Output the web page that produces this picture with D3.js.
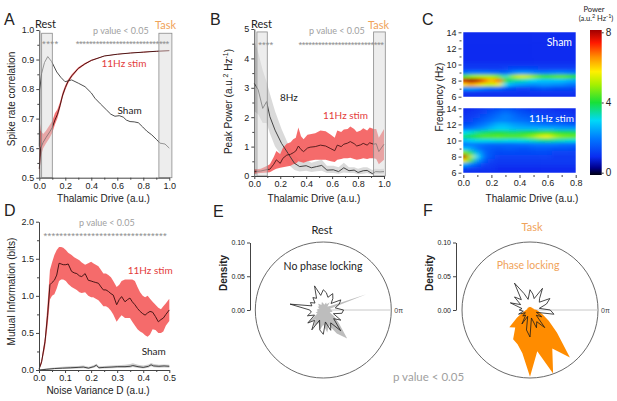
<!DOCTYPE html>
<html>
<head>
<meta charset="utf-8">
<script src="https://cdn.jsdelivr.net/npm/d3@7"></script>
<style>
body { margin: 0; background: #fff; }
svg text { font-family: "Liberation Sans", Arial, sans-serif; }
.ann { font-family: Lato, "Open Sans", sans-serif; }
</style>
</head>
<body>
<div id="chart"></div>
<script>
const width = 617
const height = 401

// ---------- A: spike rate correlation ----------
const shamDriveA = [0, 0.003, 0.018, 0.04, 0.065, 0.095, 0.134, 0.165, 0.198, 0.225, 0.249, 0.3, 0.352, 0.4, 0.428, 0.47, 0.518, 0.55, 0.582, 0.615, 0.646, 0.67, 0.698, 0.73, 0.762, 0.795, 0.826, 0.865, 0.9, 0.928, 0.967, 1.0]
const shamCorrA = [0.605, 0.797, 0.853, 0.89, 0.91, 0.893, 0.858, 0.84, 0.825, 0.828, 0.831, 0.82, 0.808, 0.787, 0.769, 0.75, 0.729, 0.715, 0.708, 0.71, 0.705, 0.695, 0.69, 0.689, 0.686, 0.672, 0.658, 0.645, 0.63, 0.617, 0.614, 0.60]
const stimDriveA = [0, 0.01, 0.03, 0.05, 0.08, 0.1, 0.12, 0.14, 0.16, 0.18, 0.2, 0.22, 0.25, 0.3, 0.35, 0.4, 0.5, 0.6, 0.7, 0.8, 0.9, 1.0]
const stimCorrA = [0.53, 0.6, 0.62, 0.635, 0.655, 0.67, 0.695, 0.715, 0.745, 0.78, 0.805, 0.825, 0.845, 0.87, 0.885, 0.897, 0.912, 0.918, 0.922, 0.925, 0.928, 0.93]
const stimLoA = [0.50, 0.57, 0.60, 0.615, 0.635, 0.652, 0.68, 0.702, 0.735, 0.772, 0.797, 0.818, 0.84, 0.866, 0.882, 0.895, 0.911, 0.917, 0.921, 0.924, 0.927, 0.929]
const stimHiA = [0.71, 0.66, 0.648, 0.658, 0.678, 0.692, 0.718, 0.732, 0.757, 0.79, 0.813, 0.832, 0.85, 0.874, 0.888, 0.899, 0.913, 0.919, 0.923, 0.926, 0.929, 0.931]
const xTicksA = [0, 0.2, 0.4, 0.6, 0.8, 1.0]
const xMinorA = [0.1, 0.3, 0.5, 0.7, 0.9]
const yTicksA = [0.5, 0.6, 0.7, 0.8, 0.9, 1.0]
const yMinorA = [0.55, 0.65, 0.75, 0.85, 0.95]
const sigA = [[0.02, 0.146, 4], [0.28, 1.0, 28]]

// ---------- B: peak power ----------
const shamDriveB = [0, 0.03, 0.065, 0.095, 0.12, 0.16, 0.21, 0.26, 0.31, 0.35, 0.4, 0.44, 0.48, 0.52, 0.56, 0.61, 0.65, 0.69, 0.73, 0.77, 0.8, 0.84, 0.87, 0.91, 0.935, 0.97, 1.0]
const shamPowB = [3.15, 2.93, 2.3, 2.53, 2.02, 1.56, 1.11, 0.77, 0.43, 0.32, 0.35, 0.28, 0.32, 0.36, 0.2, 0.21, 0.15, 0.28, 0.18, 0.2, 0.12, 0.18, 0.19, 0.08, 0.15, 0.14, 0.15]
const shamLoB = [2.2, 2.1, 1.8, 1.8, 1.45, 1.0, 0.7, 0.4, 0.2, 0.15, 0.18, 0.14, 0.16, 0.18, 0.1, 0.1, 0.08, 0.12, 0.1, 0.1, 0.06, 0.08, 0.1, 0.04, 0.08, 0.08, 0.08]
const shamHiB = [4.6, 4.2, 3.6, 3.2, 2.8, 2.2, 1.6, 1.1, 0.7, 0.55, 0.55, 0.45, 0.5, 0.55, 0.35, 0.35, 0.3, 0.45, 0.3, 0.3, 0.25, 0.3, 0.3, 0.2, 0.25, 0.24, 0.25]
const stimDriveB = [0, 0.05, 0.1, 0.12, 0.15, 0.17, 0.2, 0.22, 0.25, 0.28, 0.3, 0.32, 0.34, 0.36, 0.38, 0.41, 0.43, 0.47, 0.51, 0.55, 0.59, 0.62, 0.64, 0.67, 0.69, 0.72, 0.74, 0.77, 0.79, 0.82, 0.84, 0.87, 0.89, 0.92, 0.94, 0.96, 1.0]
const stimPowB = [0.15, 0.17, 0.22, 0.23, 0.4, 0.55, 0.43, 0.6, 0.71, 0.74, 0.79, 0.85, 1.02, 0.9, 0.83, 0.95, 0.98, 1.0, 1.05, 1.02, 0.93, 0.86, 1.05, 1.0, 1.08, 1.12, 1.17, 1.1, 1.02, 1.06, 1.11, 1.05, 1.13, 1.08, 1.1, 0.83, 1.08]
const stimLoB = [0.08, 0.1, 0.12, 0.13, 0.2, 0.25, 0.28, 0.3, 0.32, 0.35, 0.4, 0.42, 0.5, 0.48, 0.45, 0.5, 0.52, 0.55, 0.55, 0.55, 0.5, 0.48, 0.55, 0.58, 0.6, 0.6, 0.62, 0.58, 0.55, 0.58, 0.6, 0.58, 0.6, 0.6, 0.58, 0.4, 0.55]
const stimHiB = [0.22, 0.25, 0.35, 0.4, 0.65, 0.85, 0.75, 0.95, 1.1, 1.15, 1.25, 1.3, 1.65, 1.35, 1.25, 1.4, 1.42, 1.45, 1.55, 1.52, 1.4, 1.3, 1.55, 1.5, 1.58, 1.6, 1.68, 1.6, 1.5, 1.55, 1.62, 1.55, 1.65, 1.6, 1.6, 1.3, 1.6]
const xTicksB = [0, 0.2, 0.4, 0.6, 0.8, 1.0]
const xMinorB = [0.1, 0.3, 0.5, 0.7, 0.9]
const yTicksB = [0, 1, 2, 3, 4, 5]
const yMinorB = [0.5, 1.5, 2.5, 3.5, 4.5]
const sigB = [[0.03, 0.145, 4], [0.34, 1.0, 26]]

// ---------- C: spectrograms ----------
const heatFreqs = [14, 13.5, 13, 12.5, 12, 11.5, 11, 10.5, 10, 9.5, 9, 8.5, 8, 7.5, 7, 6.5, 6]
const heatDrives = [0, 0.05, 0.1, 0.15, 0.2, 0.25, 0.3, 0.35, 0.4, 0.45, 0.5, 0.55, 0.6, 0.65, 0.7, 0.75, 0.8]
const shamPower = [
  [1.0, 1.0, 1.0, 1.0, 1.0, 1.0, 1.0, 1.0, 1.0, 1.0, 1.0, 1.0, 1.0, 1.0, 1.0, 1.0, 1.0],
  [1.0, 1.0, 1.0, 1.0, 1.0, 1.0, 1.0, 1.0, 1.0, 1.0, 1.0, 1.0, 1.0, 1.0, 1.0, 1.0, 1.0],
  [1.0, 1.0, 1.0, 1.0, 1.0, 1.0, 1.0, 1.0, 1.0, 1.0, 1.0, 1.0, 1.0, 1.0, 1.0, 1.0, 1.0],
  [1.0, 1.0, 1.0, 1.0, 1.0, 1.0, 1.0, 1.0, 1.0, 1.0, 1.0, 1.0, 1.0, 1.0, 1.0, 1.0, 1.0],
  [1.0, 1.0, 1.0, 1.0, 1.0, 1.0, 1.0, 1.0, 1.0, 1.0, 1.0, 1.0, 1.0, 1.0, 1.0, 1.0, 1.0],
  [1.0, 1.0, 1.0, 1.0, 1.0, 1.0, 1.0, 1.0, 1.0, 1.0, 1.0, 1.0, 1.0, 1.0, 1.0, 1.0, 1.0],
  [1.0, 1.0, 1.0, 1.0, 1.0, 1.0, 1.0, 1.0, 1.0, 1.0, 1.0, 1.0, 1.0, 1.0, 1.0, 1.0, 1.0],
  [1.0, 1.0, 1.0, 1.0, 1.0, 1.0, 1.0, 1.0, 1.0, 1.0, 1.0, 1.0, 1.0, 1.0, 1.0, 1.0, 1.0],
  [1.1, 1.1, 1.1, 1.1, 1.1, 1.1, 1.1, 1.1, 1.1, 1.1, 1.1, 1.1, 1.1, 1.1, 1.1, 1.1, 1.1],
  [1.2, 1.2, 1.2, 1.2, 1.2, 1.2, 1.3, 1.4, 1.4, 1.4, 1.4, 1.3, 1.3, 1.3, 1.3, 1.3, 1.3],
  [1.8, 2.0, 2.0, 2.0, 1.9, 1.8, 1.7, 2.1, 2.3, 2.3, 2.1, 2.0, 2.0, 2.1, 2.1, 2.0, 1.9],
  [4.2, 4.8, 5.0, 5.0, 5.0, 4.6, 3.2, 4.8, 5.4, 5.3, 4.8, 4.3, 4.2, 4.4, 4.5, 4.3, 4.0],
  [7.6, 8.0, 7.8, 6.8, 6.0, 6.8, 4.0, 3.5, 3.4, 3.2, 3.0, 2.8, 2.8, 2.8, 2.8, 2.6, 2.5],
  [5.8, 6.4, 6.0, 5.4, 5.2, 5.6, 3.0, 2.5, 2.4, 2.3, 2.2, 2.3, 2.3, 2.2, 2.2, 2.0, 2.0],
  [2.2, 2.4, 2.2, 2.0, 1.8, 1.8, 1.5, 1.4, 1.3, 1.3, 1.4, 1.5, 1.5, 1.4, 1.4, 1.4, 1.3],
  [1.1, 1.1, 1.1, 1.1, 1.1, 1.1, 1.1, 1.1, 1.1, 1.1, 1.1, 1.1, 1.1, 1.1, 1.1, 1.1, 1.1],
  [1.0, 1.0, 1.0, 1.0, 1.0, 1.0, 1.0, 1.0, 1.0, 1.0, 1.0, 1.0, 1.0, 1.0, 1.0, 1.0, 1.0]
]
const stimPower = [
  [1.0, 1.0, 1.1, 1.2, 1.3, 1.4, 1.5, 1.4, 1.3, 1.2, 1.1, 1.1, 1.1, 1.0, 1.0, 1.0, 1.0],
  [1.0, 1.1, 1.2, 1.3, 1.5, 1.7, 1.9, 1.7, 1.5, 1.4, 1.3, 1.2, 1.2, 1.2, 1.1, 1.1, 1.0],
  [1.1, 1.2, 1.3, 1.5, 1.7, 1.9, 2.1, 1.9, 1.7, 1.6, 1.5, 1.4, 1.3, 1.3, 1.2, 1.2, 1.1],
  [1.2, 1.3, 1.5, 1.7, 1.9, 2.1, 2.1, 2.0, 1.9, 1.8, 1.7, 1.6, 1.5, 1.4, 1.4, 1.3, 1.3],
  [1.4, 1.5, 1.8, 2.0, 2.3, 2.6, 2.6, 2.4, 2.3, 2.2, 2.1, 2.0, 1.9, 1.9, 1.8, 1.7, 1.6],
  [1.9, 2.0, 2.2, 2.4, 2.7, 2.9, 2.9, 2.7, 2.6, 2.6, 2.6, 2.6, 2.6, 2.5, 2.4, 2.4, 2.3],
  [3.0, 3.2, 3.5, 3.7, 3.8, 3.9, 3.8, 3.7, 3.8, 3.9, 4.0, 4.2, 4.3, 4.1, 3.9, 3.9, 3.8],
  [3.6, 3.9, 4.2, 4.4, 4.4, 4.5, 4.4, 4.4, 4.4, 4.6, 4.9, 5.4, 5.6, 5.0, 4.7, 4.6, 4.5],
  [2.7, 2.9, 3.1, 3.1, 3.1, 3.2, 3.1, 3.1, 3.1, 3.2, 3.3, 3.5, 3.6, 3.4, 3.3, 3.2, 3.1],
  [2.0, 2.1, 2.0, 1.9, 1.8, 1.8, 1.8, 1.8, 1.9, 1.9, 2.0, 2.0, 2.0, 2.0, 1.9, 1.9, 1.8],
  [2.8, 2.5, 2.0, 1.7, 1.6, 1.5, 1.6, 1.6, 1.5, 1.5, 1.6, 1.6, 1.6, 1.5, 1.5, 1.5, 1.4],
  [4.8, 3.8, 2.6, 1.8, 1.5, 1.4, 1.4, 1.4, 1.4, 1.4, 1.4, 1.4, 1.4, 1.3, 1.3, 1.3, 1.3],
  [7.8, 5.2, 3.0, 1.8, 1.5, 1.3, 1.3, 1.3, 1.3, 1.3, 1.3, 1.3, 1.3, 1.2, 1.2, 1.2, 1.2],
  [5.8, 4.2, 2.4, 1.6, 1.3, 1.2, 1.2, 1.2, 1.2, 1.2, 1.2, 1.2, 1.2, 1.2, 1.2, 1.2, 1.2],
  [2.6, 2.1, 1.6, 1.3, 1.2, 1.1, 1.1, 1.1, 1.1, 1.1, 1.1, 1.1, 1.1, 1.1, 1.1, 1.1, 1.1],
  [1.4, 1.3, 1.2, 1.1, 1.1, 1.0, 1.0, 1.0, 1.0, 1.0, 1.0, 1.0, 1.0, 1.0, 1.0, 1.0, 1.0],
  [1.0, 1.0, 1.0, 1.0, 1.0, 1.0, 1.0, 1.0, 1.0, 1.0, 1.0, 1.0, 1.0, 1.0, 1.0, 1.0, 1.0]
]
const powerStops = [0, 0.4, 1.0, 2.0, 3.0, 4.0, 5.0, 5.7, 6.5, 7.3, 8.0]
const powerColors = ["#000010", "#00008c", "#0a2cf0", "#0078ff", "#00d8f8", "#18e038", "#a8f000", "#fff000", "#ff9000", "#ff1800", "#a00000"]
const xTicksC = [0, 0.2, 0.4, 0.6, 0.8]
const xMinorC = [0.1, 0.3, 0.5, 0.7]
const yTicksC = [6, 8, 10, 12, 14]
const yMinorC = [7, 9, 11, 13]
const barTicks = [0, 4, 8]

// ---------- D: mutual information ----------
const noiseD = [0, 0.01, 0.023, 0.033, 0.042, 0.05, 0.059, 0.068, 0.077, 0.085, 0.093, 0.103, 0.112, 0.125, 0.135, 0.145, 0.155, 0.164, 0.177, 0.189, 0.2, 0.208, 0.218, 0.228, 0.238, 0.247, 0.257, 0.266, 0.276, 0.285, 0.298, 0.308, 0.317, 0.33, 0.34, 0.349, 0.358, 0.368, 0.378, 0.388, 0.398, 0.407, 0.417, 0.426, 0.436, 0.447, 0.458, 0.468, 0.477, 0.487, 0.5]
const stimInfoD = [0.01, 0.11, 0.38, 0.74, 1.15, 1.18, 1.21, 1.28, 1.44, 1.43, 1.42, 1.42, 1.43, 1.33, 1.31, 1.3, 1.27, 1.26, 1.3, 1.21, 1.2, 1.19, 1.18, 1.17, 1.12, 1.08, 1.08, 1.06, 1.03, 1.01, 0.88, 0.95, 0.99, 0.92, 0.95, 0.97, 0.92, 0.88, 0.83, 0.79, 0.76, 0.74, 0.77, 0.79, 0.78, 0.72, 0.65, 0.68, 0.7, 0.75, 0.81]
const stimHiD = [0.02, 0.15, 0.45, 0.9, 1.35, 1.45, 1.55, 1.62, 1.66, 1.66, 1.65, 1.62, 1.58, 1.55, 1.52, 1.5, 1.48, 1.45, 1.42, 1.44, 1.46, 1.44, 1.42, 1.4, 1.35, 1.3, 1.3, 1.28, 1.25, 1.2, 1.12, 1.15, 1.2, 1.22, 1.22, 1.22, 1.22, 1.2, 1.12, 1.05, 1.0, 0.98, 1.0, 0.96, 0.92, 0.88, 0.84, 0.82, 0.86, 0.9, 0.96]
const stimLoD = [0.0, 0.08, 0.3, 0.6, 0.95, 1.0, 1.02, 1.1, 1.2, 1.22, 1.22, 1.2, 1.16, 1.12, 1.1, 1.08, 1.05, 1.04, 1.05, 1.0, 0.98, 0.98, 0.96, 0.94, 0.9, 0.86, 0.86, 0.84, 0.8, 0.75, 0.65, 0.7, 0.74, 0.7, 0.7, 0.7, 0.65, 0.6, 0.55, 0.52, 0.5, 0.47, 0.45, 0.48, 0.55, 0.54, 0.5, 0.5, 0.52, 0.6, 0.66]
const shamNoiseD = [0, 0.03, 0.06, 0.09, 0.12, 0.15, 0.17, 0.19, 0.21, 0.22, 0.23, 0.25, 0.28, 0.3, 0.33, 0.35, 0.36, 0.38, 0.4, 0.42, 0.43, 0.44, 0.46, 0.48, 0.5]
const shamInfoD = [0.0, 0.01, 0.02, 0.025, 0.03, 0.035, 0.04, 0.025, 0.045, 0.065, 0.03, 0.035, 0.04, 0.045, 0.045, 0.05, 0.06, 0.045, 0.035, 0.05, 0.07, 0.055, 0.05, 0.055, 0.05]
const shamLoD = [0, 0.0, 0.01, 0.012, 0.015, 0.02, 0.025, 0.012, 0.03, 0.045, 0.018, 0.02, 0.025, 0.028, 0.028, 0.032, 0.04, 0.028, 0.02, 0.032, 0.05, 0.038, 0.032, 0.035, 0.03]
const shamHiD = [0.005, 0.025, 0.035, 0.045, 0.05, 0.055, 0.06, 0.045, 0.065, 0.085, 0.05, 0.055, 0.06, 0.065, 0.07, 0.08, 0.09, 0.07, 0.06, 0.075, 0.095, 0.08, 0.072, 0.075, 0.07]
const xTicksD = [0, 0.1, 0.2, 0.3, 0.4, 0.5]
const xMinorD = [0.05, 0.15, 0.25, 0.35, 0.45]
const yTicksD = [0, 0.5, 1.0, 1.5, 2.0]
const yMinorD = [0.25, 0.75, 1.25, 1.75]
const sigD = [[0.017, 0.49, 31]]

// ---------- E/F: phase histograms (density per 10 deg bin, counter-clockwise from 0 pi) ----------
const phaseBins = [0, 10, 20, 30, 40, 50, 60, 70, 80, 90, 100, 110, 120, 130, 140, 150, 160, 170, 180, 190, 200, 210, 220, 230, 240, 250, 260, 270, 280, 290, 300, 310, 320, 330, 340, 350]
const restOutline = [0.030, 0.018, 0.025, 0.030, 0.015, 0.022, 0.028, 0.020, 0.026, 0.030, 0.022, 0.038, 0.020, 0.024, 0.016, 0.022, 0.018, 0.050, 0.020, 0.018, 0.025, 0.015, 0.030, 0.020, 0.034, 0.016, 0.030, 0.036, 0.018, 0.032, 0.022, 0.040, 0.020, 0.030, 0.016, 0.028]
const restFill = [0.012, 0.010, 0.068, 0.012, 0.008, 0.015, 0.010, 0.012, 0.008, 0.010, 0.012, 0.008, 0.010, 0.012, 0.008, 0.010, 0.006, 0.008, 0.010, 0.008, 0.012, 0.010, 0.030, 0.018, 0.028, 0.020, 0.030, 0.022, 0.034, 0.024, 0.040, 0.055, 0.030, 0.018, 0.010, 0.014]
const taskOutline = [0.030, 0.014, 0.026, 0.034, 0.018, 0.022, 0.037, 0.018, 0.024, 0.030, 0.016, 0.026, 0.046, 0.020, 0.030, 0.016, 0.031, 0.012, 0.016, 0.010, 0.018, 0.008, 0.014, 0.010, 0.024, 0.010, 0.030, 0.040, 0.012, 0.028, 0.020, 0.034, 0.012, 0.020, 0.010, 0.036]
const taskFill = [0.010, 0.006, 0.005, 0.006, 0.004, 0.005, 0.004, 0.005, 0.004, 0.005, 0.004, 0.005, 0.004, 0.005, 0.004, 0.005, 0.004, 0.005, 0.006, 0.008, 0.012, 0.022, 0.040, 0.034, 0.050, 0.054, 0.065, 0.099, 0.062, 0.100, 0.066, 0.092, 0.052, 0.032, 0.020, 0.014]
const densityTicks = [0, 0.05, 0.1]

// ---------- colours ----------
const redBand = "#f45b5b"
const redLine = "#4a1616"
const redText = "#e33b3b"
const orange = "#ff8c00"
const taskText = "#f0a35a"
const axisColor = "#444"
const starGray = "#a0a0a0"

const svg = d3.select("#chart").append("svg").attr("width", width).attr("height", height)
const defs = svg.append("defs")

function styleAxis(g, size) {
    g.attr("font-family", "Liberation Sans, Arial, sans-serif").attr("font-size", size || 9)
    g.selectAll("path.domain").attr("stroke", axisColor)
    g.selectAll(".tick line").attr("stroke", axisColor)
    g.selectAll(".tick text").attr("fill", "#222")
}

function addAxis(axisFn, scale, pos, major, minor, fmt, opts = {}) {
    const [tx, ty] = pos
    const g = svg.append("g").attr("transform", `translate(${tx}, ${ty})`)
    g.call(axisFn(scale).tickValues(major).tickFormat(fmt).tickSize(3).tickPadding(2).tickSizeOuter(0))
    styleAxis(g, opts.size)
    if (opts.noDomain) g.select("path.domain").remove()
    if (minor) {
        const m = svg.append("g").attr("transform", `translate(${tx}, ${ty})`)
        m.call(axisFn(scale).tickValues(minor).tickFormat("").tickSize(2).tickSizeOuter(0))
        m.select("path.domain").remove()
        m.selectAll(".tick line").attr("stroke", axisColor)
    }
    return g
}

function label(x, y, text, opts = {}) {
    const t = svg.append("text").attr("x", x).attr("y", y).text(text)
        .attr("font-size", opts.size || 10).attr("fill", opts.color || "#222")
        .attr("text-anchor", opts.anchor || "start")
    if (opts.cls) t.attr("class", opts.cls)
    if (opts.rotate) t.attr("transform", `rotate(-90, ${x}, ${y})`)
    if (opts.weight) t.attr("font-weight", opts.weight)
    return t
}

// significance asterisks, spread over each significant range
function stars(xs, yv, segments) {
    segments.forEach(([a, b, n]) => {
        svg.append("text").attr("x", xs(a)).attr("y", yv + 5.5)
            .attr("textLength", xs(b) - xs(a)).attr("lengthAdjust", "spacing")
            .attr("font-size", 9.5).attr("fill", "#8f8f8f")
            .text("*".repeat(n))
    })
}

function bandPath(xs, ys, xv, lo, hi, color, opacity) {
    svg.append("path").datum(xv.map((d, i) => i))
        .attr("d", d3.area().x(i => xs(xv[i])).y0(i => ys(lo[i])).y1(i => ys(hi[i])))
        .attr("fill", color).attr("fill-opacity", opacity || 1)
}

function linePath(xs, ys, xv, yv, color, w) {
    svg.append("path").datum(xv.map((d, i) => i))
        .attr("d", d3.line().x(i => xs(xv[i])).y(i => ys(yv[i])))
        .attr("fill", "none").attr("stroke", color).attr("stroke-width", w || 1)
        .attr("stroke-linejoin", "round")
}

function boxes(xs, ys, top, bottom, ranges) {
    ranges.forEach(([a, b]) => {
        svg.append("rect").attr("x", xs(a)).attr("y", ys(top))
            .attr("width", xs(b) - xs(a)).attr("height", ys(bottom) - ys(top))
            .attr("fill", "#dcdcdc").attr("fill-opacity", 0.5)
            .attr("stroke", "#8a8a8a").attr("stroke-width", 0.8)
    })
}

const f1 = d3.format(".1f")

// ================= A =================
const xA = d3.scaleLinear().domain([0, 1]).range([39.3, 169.3])
const yA = d3.scaleLinear().domain([0.5, 1]).range([177.7, 30])
bandPath(xA, yA, stimDriveA, stimLoA, stimHiA, redBand, 0.85)
linePath(xA, yA, shamDriveA, shamCorrA, "#3a3a3a", 0.9)
linePath(xA, yA, stimDriveA, stimCorrA, redLine, 1)
boxes(xA, yA, 0.989, 0.5, [[0.018, 0.1], [0.92, 1.02]])
addAxis(d3.axisLeft, yA, [39.3, 0], yTicksA, yMinorA, f1)
addAxis(d3.axisBottom, xA, [0, 177.7], xTicksA, xMinorA, f1)
stars(xA, yA(0.962), sigA)
label(4, 25, "A", {size: 16})
label(35, 28, "Rest", {size: 11, cls: "ann"})
label(155, 29, "Task", {size: 11, cls: "ann", color: taskText})
label(93, 34, "p value < 0.05", {size: 9, cls: "ann", color: starGray})
label(101.5, 67, "11Hz stim", {size: 10, cls: "ann", color: redText})
label(117.5, 114, "Sham", {size: 10, cls: "ann"})
label(15, 99, "Spike rate correlation", {size: 10, anchor: "middle", rotate: true})
label(103.5, 202, "Thalamic Drive (a.u.)", {size: 10, anchor: "middle"})

// ================= B =================
const xB = d3.scaleLinear().domain([0, 1]).range([254.3, 384])
const yB = d3.scaleLinear().domain([0, 5]).range([176, 29])
bandPath(xB, yB, shamDriveB, shamLoB, shamHiB, "#d6d6d6", 0.9)
bandPath(xB, yB, stimDriveB, stimLoB, stimHiB, redBand, 0.9)
linePath(xB, yB, shamDriveB, shamPowB, "#333", 0.9)
linePath(xB, yB, stimDriveB, stimPowB, redLine, 0.9)
boxes(xB, yB, 4.9, 0, [[0.02, 0.1], [0.92, 1.01]])
addAxis(d3.axisLeft, yB, [254.3, 0], yTicksB, yMinorB, d3.format("d"))
addAxis(d3.axisBottom, xB, [0, 176], xTicksB, xMinorB, f1)
stars(xB, yB(4.55), sigB)
label(210, 25, "B", {size: 16})
label(251, 28, "Rest", {size: 11, cls: "ann"})
label(368, 29, "Task", {size: 11, cls: "ann", color: taskText})
label(309, 34, "p value < 0.05", {size: 9, cls: "ann", color: starGray})
label(280, 101, "8Hz", {size: 10, cls: "ann"})
label(323, 119, "11Hz stim", {size: 10, cls: "ann", color: redText})
const bLab = svg.append("text").attr("transform", "translate(232, 101.5) rotate(-90)")
    .attr("text-anchor", "middle").attr("font-size", 10).attr("fill", "#222")
bLab.append("tspan").text("Peak Power (a.u.")
bLab.append("tspan").text("2").attr("font-size", 7).attr("dy", -4)
bLab.append("tspan").text(" Hz").attr("dy", 4)
bLab.append("tspan").text("-1").attr("font-size", 7).attr("dy", -4)
bLab.append("tspan").text(")").attr("dy", 4)
label(314, 202, "Thalamic Drive (a.u.)", {size: 10, anchor: "middle"})

// ================= C =================
const powerColor = d3.scaleLinear().domain(powerStops).range(powerColors).clamp(true)
const hx = d3.scaleLinear().domain([0, 0.8]).range([463.3, 575.7])
const hyTop = d3.scaleLinear().domain([6, 14]).range([96.7, 32.3])
const hyBot = d3.scaleLinear().domain([6, 14]).range([172.7, 108.3])

defs.append("filter").attr("id", "smooth").attr("x", "-10%").attr("y", "-10%")
    .attr("width", "120%").attr("height", "120%")
    .append("feGaussianBlur").attr("stdDeviation", "3 1.4")

function drawHeat(grid, hy, id) {
    const cw = hx(0.05) - hx(0)
    const ch = hy(6) - hy(6.5)
    defs.append("clipPath").attr("id", id).append("rect")
        .attr("x", hx(0)).attr("y", hy(14))
        .attr("width", hx(0.8) - hx(0)).attr("height", hy(6) - hy(14))
    const g = svg.append("g").attr("clip-path", `url(#${id})`)
        .append("g").attr("filter", "url(#smooth)")
    const cells = []
    grid.forEach((row, i) => row.forEach((v, j) => cells.push({i, j, v})))
    const lastI = heatFreqs.length - 1, lastJ = heatDrives.length - 1
    g.selectAll("rect").data(cells).join("rect")
        .attr("x", c => hx(heatDrives[c.j]) - cw / 2 - (c.j === 0 ? 10 : 0))
        .attr("width", c => cw + 0.6 + (c.j === 0 ? 10 : 0) + (c.j === lastJ ? 10 : 0))
        .attr("y", c => hy(heatFreqs[c.i]) - ch / 2 - (c.i === 0 ? 10 : 0))
        .attr("height", c => ch + 0.6 + (c.i === 0 ? 10 : 0) + (c.i === lastI ? 10 : 0))
        .attr("fill", c => powerColor(c.v))
    addAxis(d3.axisLeft, hy, [461.5, 0], yTicksC, yMinorC, d3.format("d"), {noDomain: true})
}
drawHeat(shamPower, hyTop, "clipSham")
drawHeat(stimPower, hyBot, "clipStim")
addAxis(d3.axisBottom, hx, [0, 175], xTicksC, xMinorC, f1, {noDomain: true})
label(572, 46, "Sham", {size: 10.5, cls: "ann", color: "#fff", anchor: "end"})
label(574, 122, "11Hz stim", {size: 10, cls: "ann", color: "#fff", anchor: "end"})
label(422, 25, "C", {size: 16})
label(443, 97, "Frequency (Hz)", {size: 10, anchor: "middle", rotate: true})
label(532, 202, "Thalamic Drive (a.u.)", {size: 10, anchor: "middle"})

// colour bar
const barY = d3.scaleLinear().domain([0, 8]).range([172.7, 32.3])
const grad = defs.append("linearGradient").attr("id", "powerGrad")
    .attr("x1", 0).attr("y1", 1).attr("x2", 0).attr("y2", 0)
grad.selectAll("stop").data(powerStops).join("stop")
    .attr("offset", d => d / 8).attr("stop-color", d => powerColor(d))
svg.append("rect").attr("x", 590).attr("y", barY(8) - 2.3).attr("width", 11.7)
    .attr("height", barY(0) - barY(8) + 4.6).attr("fill", "url(#powerGrad)")
const barAxis = svg.append("g").attr("transform", "translate(601.7, 0)")
    .call(d3.axisRight(barY).tickValues(barTicks).tickSize(2).tickPadding(2).tickSizeOuter(0))
barAxis.select("path.domain").remove()
barAxis.attr("font-family", "Lato, sans-serif").attr("font-size", 10)
barAxis.selectAll(".tick line").attr("stroke", "#333")
barAxis.selectAll(".tick text").attr("fill", "#222")
label(594, 12, "Power", {size: 7.5, cls: "ann", anchor: "middle"})
const pLab = svg.append("text").attr("x", 596).attr("y", 20.5).attr("class", "ann")
    .attr("text-anchor", "middle").attr("font-size", 7.5).attr("fill", "#222")
pLab.append("tspan").text("(a.u.")
pLab.append("tspan").text("2").attr("font-size", 5.5).attr("dy", -3)
pLab.append("tspan").text(" Hz").attr("dy", 3)
pLab.append("tspan").text("-1").attr("font-size", 5.5).attr("dy", -3)
pLab.append("tspan").text(")").attr("dy", 3)

// ================= D =================
const xD = d3.scaleLinear().domain([0, 0.5]).range([39, 169.3])
const yD = d3.scaleLinear().domain([0, 2]).range([370, 221.7])
bandPath(xD, yD, noiseD, stimLoD, stimHiD, redBand, 0.9)
bandPath(xD, yD, shamNoiseD, shamLoD, shamHiD, "#c8c8c8", 0.9)
linePath(xD, yD, shamNoiseD, shamInfoD, "#333", 0.9)
linePath(xD, yD, noiseD, stimInfoD, redLine, 1)
addAxis(d3.axisLeft, yD, [39, 0], yTicksD, yMinorD, f1)
addAxis(d3.axisBottom, xD, [0, 370], xTicksD, xMinorD, f1)
stars(xD, yD(1.84), sigD)
label(4, 215.5, "D", {size: 16})
label(79, 226, "p value < 0.05", {size: 9, cls: "ann", color: starGray})
label(127.7, 274, "11Hz stim", {size: 10, cls: "ann", color: redText})
label(141.7, 355, "Sham", {size: 10, cls: "ann"})
label(15, 291.5, "Mutual Information (bits)", {size: 10, anchor: "middle", rotate: true})
label(98, 394, "Noise Variance D (a.u.)", {size: 10, anchor: "middle"})

// ================= E / F =================
const rDen = d3.scaleLinear().domain([0, 0.1]).range([0, 67.5])
const rose = d3.lineRadial()
    .angle((d, i) => (90 - phaseBins[i]) * Math.PI / 180)
    .radius(d => rDen(d))
    .curve(d3.curveLinearClosed)

function drawRose(cx, cy, axisX, fillVals, fillColor, outlineVals) {
    const g = svg.append("g").attr("transform", `translate(${cx}, ${cy})`)
    g.append("circle").attr("r", 68).attr("fill", "none").attr("stroke", "#6a6a6a").attr("stroke-width", 1)
    g.append("line").attr("x1", 0).attr("x2", 68).attr("stroke", "#c8c8c8").attr("stroke-width", 1)
    g.append("path").datum(fillVals).attr("d", rose).attr("fill", fillColor)
    g.append("path").datum(outlineVals).attr("d", rose).attr("fill", "none")
        .attr("stroke", "#1a1a1a").attr("stroke-width", 0.8).attr("stroke-linejoin", "miter")
    g.append("text").attr("x", 71).attr("y", 2.5).attr("font-size", 7).attr("fill", "#444").text("0π")
    const ys = d3.scaleLinear().domain([0, 0.1]).range([cy, cy - 67.5])
    addAxis(d3.axisLeft, ys, [axisX, 0], densityTicks, null, d3.format(".2f"), {size: 7})
}

drawRose(323.3, 310, 250, restFill, "#bdbdbd", restOutline)
label(213, 216.5, "E", {size: 16})
label(322, 234, "Rest", {size: 11, cls: "ann", anchor: "middle"})
label(323, 270, "No phase locking", {size: 10.5, cls: "ann", anchor: "middle"})
label(226.5, 273, "Density", {size: 10, anchor: "middle", rotate: true, weight: "bold"})

drawRose(530, 310, 456, taskFill, orange, taskOutline)
label(423, 215.5, "F", {size: 16})
label(532, 231, "Task", {size: 11, cls: "ann", anchor: "middle", color: taskText})
label(528, 269, "Phase locking", {size: 10.5, cls: "ann", anchor: "middle", color: taskText})
label(432.5, 273, "Density", {size: 10, anchor: "middle", rotate: true, weight: "bold"})

label(393, 381, "p value < 0.05", {size: 11.5, cls: "ann", color: starGray})
</script>
</body>
</html>
